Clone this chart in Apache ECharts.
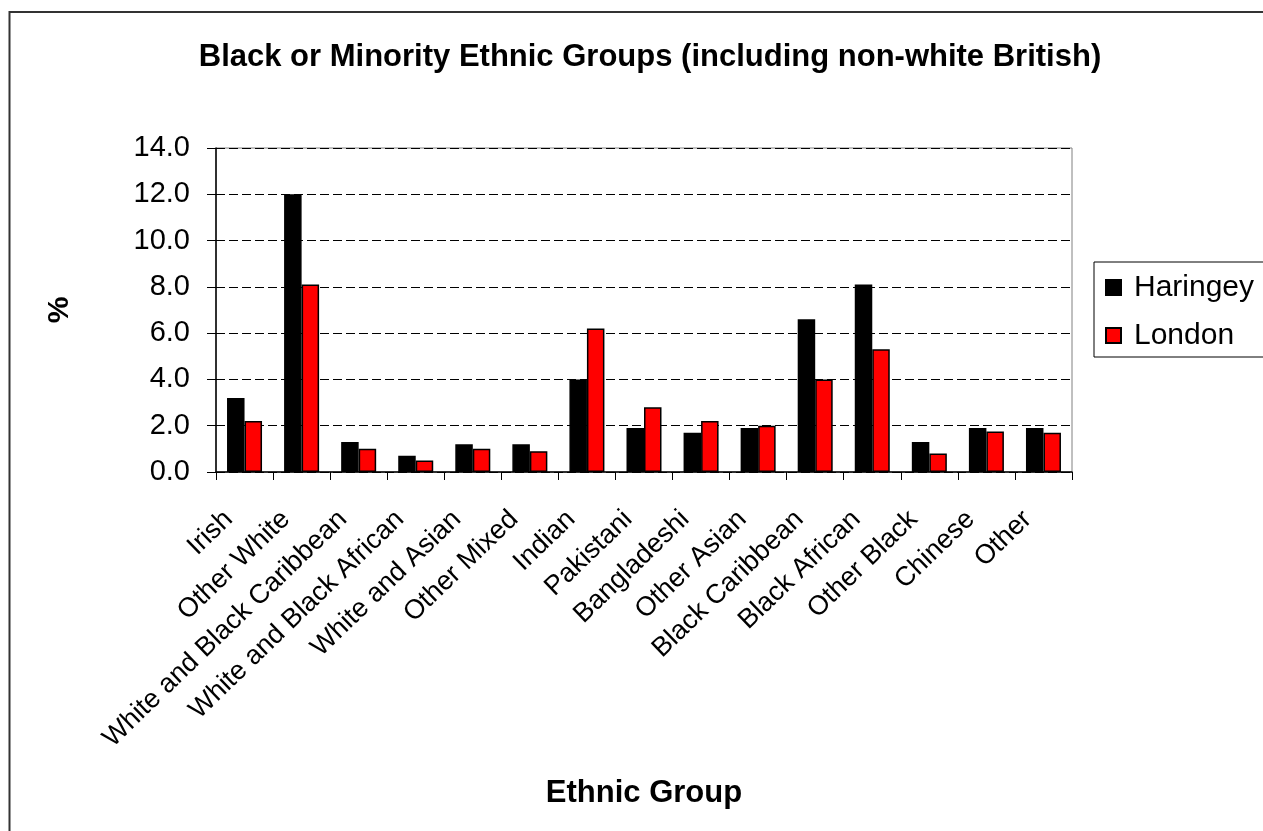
<!DOCTYPE html>
<html>
<head>
<meta charset="utf-8">
<title>Black or Minority Ethnic Groups</title>
<script src="https://cdn.jsdelivr.net/npm/echarts@6/dist/echarts.min.js"></script>
<style>
  html, body { margin: 0; padding: 0; background: #fff; }
  #chart { width: 1263px; height: 831px; }
</style>
</head>
<body>
<div id="chart"></div>
<script>
// Ethnic groups shown along the x axis
const categories = [
  'Irish', 'Other White', 'White and Black Caribbean', 'White and Black African',
  'White and Asian', 'Other Mixed', 'Indian', 'Pakistani', 'Bangladeshi',
  'Other Asian', 'Black Caribbean', 'Black African', 'Other Black', 'Chinese', 'Other'
];

// Share of population (%) per group
const haringey = [3.2, 12.0, 1.3, 0.7, 1.2, 1.2, 4.0, 1.9, 1.7, 1.9, 6.6, 8.1, 1.3, 1.9, 1.9];
const london   = [2.2, 8.1, 1.0, 0.5, 1.0, 0.9, 6.2, 2.8, 2.2, 2.0, 4.0, 5.3, 0.8, 1.75, 1.7];

const seriesNames = ['Haringey', 'London'];
const yTicks = { min: 0, max: 14, interval: 2 };

const FONT = 'Liberation Sans, Arial, sans-serif';

const chart = echarts.init(document.getElementById('chart'), null, { renderer: 'canvas' });

chart.setOption({
  backgroundColor: '#ffffff',
  animation: false,
  textStyle: { fontFamily: FONT, color: '#000' },
  title: {
    text: 'Black or Minority Ethnic Groups (including non-white British)',
    left: 645,
    textAlign: 'center',
    top: 37,
    textStyle: { fontFamily: FONT, fontSize: 31, fontWeight: 'bold', color: '#000' }
  },
  legend: {
    data: seriesNames,
    orient: 'vertical',
    left: 1094,
    top: 262,
    itemWidth: 15,
    itemHeight: 15,
    itemGap: 16,
    padding: [9.5, 30, 5.5, 11],
    borderColor: '#000',
    borderWidth: 1,
    icon: 'rect',
    textStyle: { fontFamily: FONT, fontSize: 30, color: '#000', padding: [0, 0, 0, 8], lineHeight: 32 }
  },
  grid: {
    left: 216,
    right: 191,
    top: 148,
    bottom: 359,
    show: true,
    borderColor: '#808080',
    borderWidth: 1,
    backgroundColor: '#fff'
  },
  xAxis: {
    type: 'category',
    data: categories,
    name: 'Ethnic Group',
    nameLocation: 'middle',
    nameGap: 306,
    nameTextStyle: { fontFamily: FONT, fontSize: 31, fontWeight: 'bold', color: '#000' },
    axisLine: { lineStyle: { color: '#000', width: 1.5 } },
    axisTick: { show: true, length: 8, lineStyle: { color: '#000' } },
    axisLabel: {
      interval: 0,
      rotate: 44,
      margin: 28,
      padding: [0, 22, 0, 0],
      fontFamily: FONT,
      fontSize: 27,
      color: '#000'
    }
  },
  yAxis: {
    type: 'value',
    min: yTicks.min,
    max: yTicks.max,
    interval: yTicks.interval,
    name: '%',
    nameLocation: 'middle',
    nameGap: 141,
    nameRotate: 90,
    nameTextStyle: { fontFamily: FONT, fontSize: 30, fontWeight: 'bold', color: '#000' },
    axisLine: { show: true, lineStyle: { color: '#000', width: 1.5 } },
    axisTick: { show: true, length: 9, lineStyle: { color: '#000' } },
    axisLabel: {
      margin: 26,
      fontFamily: FONT,
      fontSize: 29,
      color: '#000',
      formatter: v => v.toFixed(1)
    },
    splitLine: { show: true, lineStyle: { color: '#000', width: 1, type: [9, 4] } }
  },
  graphic: [
    {
      type: 'rect',
      shape: { x: 9.5, y: 12, width: 1400, height: 1000 },
      style: { fill: 'none', stroke: '#333', lineWidth: 2 },
      silent: true,
      z: -1
    }
  ],
  series: [
    {
      name: seriesNames[0],
      type: 'bar',
      data: haringey,
      barWidth: 17.5,
      barGap: '0%',
      itemStyle: { color: '#000000', borderColor: '#000', borderWidth: 1.5 }
    },
    {
      name: seriesNames[1],
      type: 'bar',
      data: london,
      barWidth: 17.5,
      barGap: '0%',
      itemStyle: { color: '#ff0000', borderColor: '#000', borderWidth: 1.5 }
    }
  ]
});
</script>
</body>
</html>
